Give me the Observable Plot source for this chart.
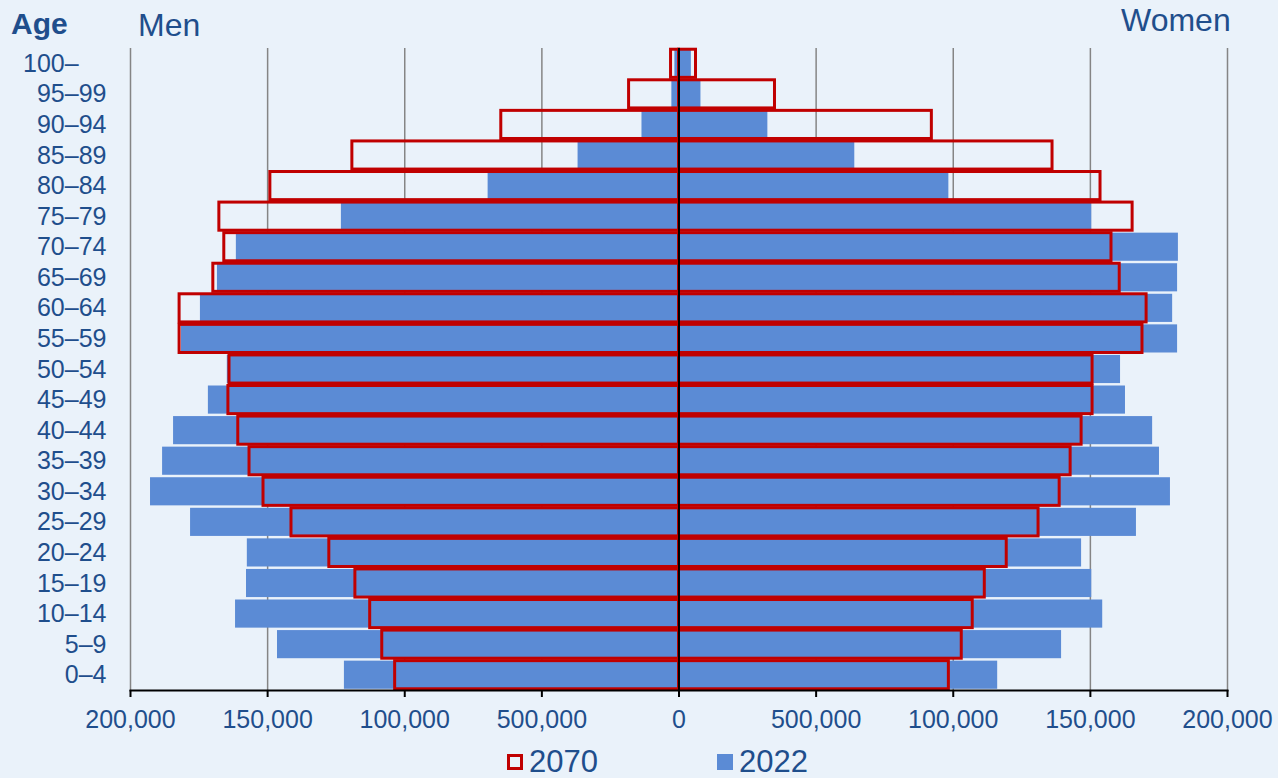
<!DOCTYPE html>
<html>
<head>
<meta charset="utf-8">
<script src="https://cdn.jsdelivr.net/npm/d3@7"></script>
<script src="https://cdn.jsdelivr.net/npm/@observablehq/plot@0.6"></script>
<style>
  html, body { margin: 0; padding: 0; background: #EAF2FA; }
  #wrap { position: relative; width: 1278px; height: 778px; font-family: "Liberation Sans", Arial, sans-serif; color: #1F4E8C; overflow: hidden; }
  #header { position: relative; height: 40px; }
  .hd { position: absolute; line-height: 30px; white-space: nowrap; }
  #legend { position: relative; height: 38px; }
  .lg { position: absolute; top: 3px; height: 38px; display: flex; align-items: center; font-size: 31px; }
  .sw { display: inline-block; width: 16px; height: 16px; box-sizing: border-box; margin-right: 6px; }
</style>
</head>
<body>
<div id="wrap">
  <div id="header">
    <div class="hd" style="left:11px; top:9px; font-size:30px; font-weight:bold;">Age</div>
    <div class="hd" style="left:138px; top:10px; font-size:32px;">Men</div>
    <div class="hd" style="left:1121px; top:5px; font-size:32px;">Women</div>
  </div>
  <div id="chart"></div>
  <div id="legend">
    <div class="lg" style="left:507px;"><span class="sw" style="border:3px solid #C00000;"></span>2070</div>
    <div class="lg" style="left:717px;"><span class="sw" style="background:#5B8BD5;"></span>2022</div>
  </div>
</div>
<script>
const ages = ["100–","95–99","90–94","85–89","80–84","75–79","70–74","65–69","60–64","55–59","50–54","45–49","40–44","35–39","30–34","25–29","20–24","15–19","10–14","5–9","0–4"];
const men2022   = [1500, 2600, 13500, 36800, 69600, 123100, 161400, 168300, 174500, 181400, 164700, 171600, 184300, 188300, 192700, 178100, 157400, 157700, 161700, 146400, 122000];
const women2022 = [4500, 8000, 32400, 64100, 98400, 150500, 182100, 181800, 180000, 181800, 161000, 162800, 172700, 175200, 179200, 166800, 146800, 150500, 154500, 139500, 116200];
const men2070   = [2900, 18200, 64800, 119100, 149000, 167600, 165800, 169800, 182100, 182100, 163900, 164300, 160700, 156600, 151500, 141300, 127500, 118000, 112600, 108200, 103500];
const women2070 = [6200, 35000, 92200, 136200, 153700, 165400, 157700, 160700, 170500, 169000, 150800, 150800, 146800, 142800, 138800, 131100, 119500, 111500, 107100, 103100, 98400];
const xTicks = [-200000, -150000, -100000, -50000, 0, 50000, 100000, 150000, 200000];
const xTickLabels = ["200,000","150,000","100,000","500,000","0","500,000","100,000","150,000","200,000"];
const gridTicks = [-200000, -150000, -100000, -50000, 50000, 100000, 150000, 200000];

const rows2022 = ages.flatMap((a, i) => [{age: a, value: -men2022[i]}, {age: a, value: women2022[i]}]);
const rows2070 = ages.flatMap((a, i) => [{age: a, value: -men2070[i]}, {age: a, value: women2070[i]}]);

const textColor = "#1F4E8C";
const yLabel = d => d === "100–" ? d + "\u2007\u2007" : d;

const chart = Plot.plot({
  width: 1278,
  height: 700,
  marginTop: 8,
  marginBottom: 50,
  marginLeft: 130,
  marginRight: 51,
  style: {background: "transparent", fontFamily: "'Liberation Sans', Arial, sans-serif"},
  x: {domain: [-200000, 200000]},
  y: {domain: ages, paddingInner: 0.08, paddingOuter: 0.04, round: false},
  marks: [
    Plot.ruleX(gridTicks, {stroke: "#858585", strokeWidth: 1.5}),
    Plot.barX(rows2022, {x: "value", y: "age", fill: "#5B8BD5"}),
    Plot.barX(rows2070, {x: "value", y: "age", fill: "none", stroke: "#C00000", strokeWidth: 3}),
    Plot.ruleX([0], {stroke: "black", strokeWidth: 2}),
    Plot.frame({anchor: "bottom", stroke: "black", strokeWidth: 2}),
    Plot.axisX({ticks: xTicks, tickFormat: (d, i) => xTickLabels[xTicks.indexOf(d)], tickSize: 7, tickPadding: 13, stroke: "black", strokeWidth: 2, fill: textColor, fontSize: 25, label: null}),
    Plot.axisY({tickSize: 0, tickPadding: 24, tickFormat: yLabel, fill: textColor, fontSize: 25, label: null})
  ]
});
document.getElementById("chart").appendChild(chart);
</script>
</body>
</html>
